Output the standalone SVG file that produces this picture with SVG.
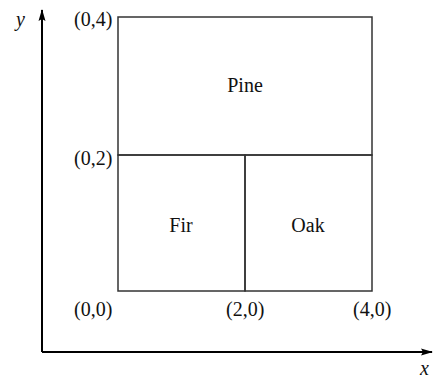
<svg xmlns="http://www.w3.org/2000/svg" width="435" height="378" viewBox="0 0 435 378" font-family="Liberation Serif, DejaVu Serif, serif">
<style>
text{font-family:'Liberation Serif','DejaVu Serif',serif;font-size:20px;fill:#111}
.it{font-style:italic}
.box{fill:none;stroke:#333;stroke-width:1.5}
.axis{stroke:#000;stroke-width:2;fill:none}
</style>
<defs>
<marker id="ah" viewBox="0 0 12 8" refX="11" refY="4" markerWidth="12" markerHeight="8" markerUnits="userSpaceOnUse" orient="auto">
<path d="M0,0.5 L12,4 L0,7.5 L2,4 Z" fill="#000"/>
</marker>
</defs>
<g id="connectors">
<line class="axis" x1="42" y1="352" x2="42" y2="10" marker-end="url(#ah)"/>
<line class="axis" x1="42" y1="352" x2="432" y2="352" marker-end="url(#ah)"/>
</g>
<g id="pine">
<rect class="box" x="118" y="17" width="254" height="138"/>
<text x="245" y="92" text-anchor="middle">Pine</text>
</g>
<g id="fir">
<rect class="box" x="118" y="155" width="127" height="136"/>
<text x="181" y="232" text-anchor="middle">Fir</text>
</g>
<g id="oak">
<rect class="box" x="245" y="155" width="127" height="136"/>
<text x="308" y="232" text-anchor="middle">Oak</text>
</g>
<g id="labels">
<text class="it" x="16" y="26">y</text>
<text class="it" x="420" y="375">x</text>
<text x="74" y="26">(0,4)</text>
<text x="74" y="165">(0,2)</text>
<text x="74" y="316">(0,0)</text>
<text x="226" y="316">(2,0)</text>
<text x="353" y="316">(4,0)</text>
</g>
</svg>
